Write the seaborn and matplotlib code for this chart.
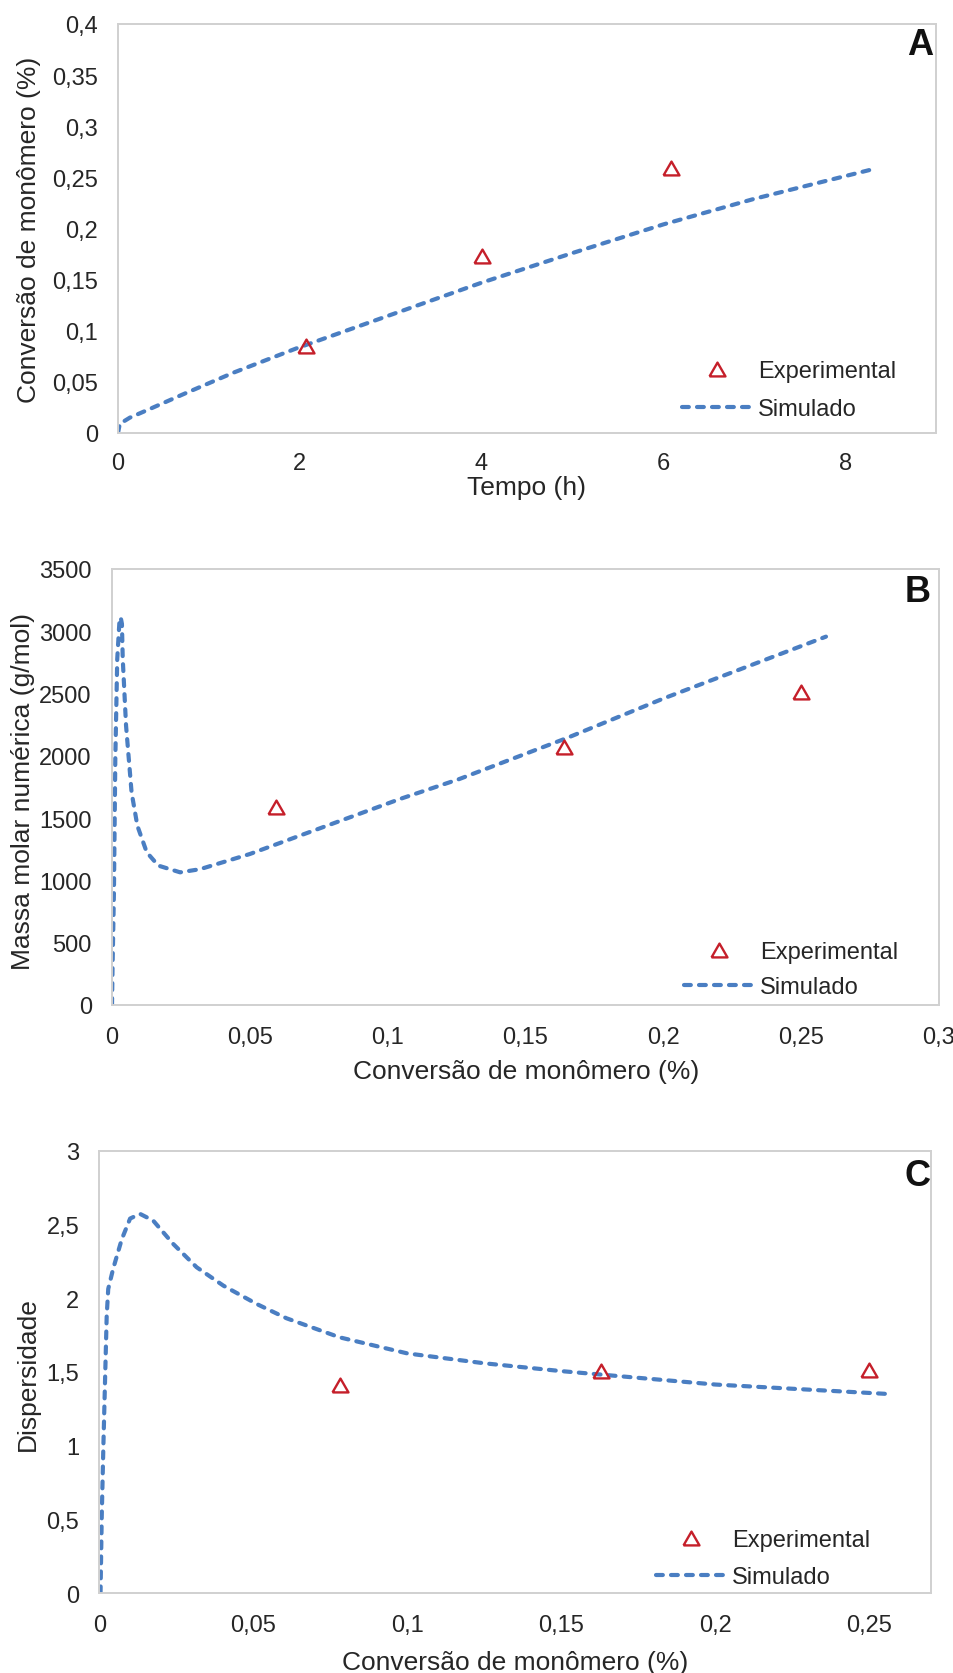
import numpy as np
import matplotlib
matplotlib.use("Agg")
import matplotlib.pyplot as plt
from matplotlib.markers import MarkerStyle
import seaborn as sns

# ---- Panel A: monomer conversion vs time ----
tempo_exp = [2.07, 4.0, 6.08]
conv_exp = [0.085, 0.173, 0.259]
tempo_sim = [0.0, 0.02, 0.13, 0.35, 0.72, 1.27, 1.97, 3.0, 4.0, 5.0, 6.0, 7.0, 8.35]
conv_sim = [0.0, 0.009, 0.015, 0.0235, 0.038, 0.059, 0.083, 0.1155, 0.147, 0.176, 0.204, 0.229, 0.259]
a_xticks = [0, 2, 4, 6, 8]
a_xticklabels = ["0", "2", "4", "6", "8"]
a_yticks = [0, 0.05, 0.1, 0.15, 0.2, 0.25, 0.3, 0.35, 0.4]
a_yticklabels = ["0", "0,05", "0,1", "0,15", "0,2", "0,25", "0,3", "0,35", "0,4"]

# ---- Panel B: number-average molar mass vs conversion ----
b_conv_exp = [0.0595, 0.164, 0.25]
b_mn_exp = [1590, 2075, 2510]
b_conv_sim = [0.0, 0.0002, 0.0007, 0.0012, 0.0019, 0.0027, 0.00315, 0.0036, 0.0039,
              0.0051, 0.0071, 0.0092, 0.0126, 0.0168, 0.0247, 0.0319, 0.050, 0.0682,
              0.1045, 0.126, 0.165, 0.200, 0.259]
b_mn_sim = [0, 300, 905, 1975, 2777, 3080, 3112, 3060, 2777,
            2242, 1707, 1439, 1226, 1119, 1065, 1090, 1212, 1360,
            1654, 1814, 2143, 2460, 2957]
b_xticks = [0, 0.05, 0.1, 0.15, 0.2, 0.25, 0.3]
b_xticklabels = ["0", "0,05", "0,1", "0,15", "0,2", "0,25", "0,3"]
b_yticks = [0, 500, 1000, 1500, 2000, 2500, 3000, 3500]
b_yticklabels = ["0", "500", "1000", "1500", "2000", "2500", "3000", "3500"]

# ---- Panel C: dispersity vs conversion ----
c_conv_exp = [0.078, 0.163, 0.25]
c_disp_exp = [1.415, 1.505, 1.515]
c_conv_sim = [0.0004, 0.0008, 0.0013, 0.00185, 0.0024, 0.0029, 0.0045, 0.0073, 0.010,
              0.0132, 0.0175, 0.024, 0.0316, 0.0403, 0.0511, 0.0608, 0.078, 0.1,
              0.125, 0.15, 0.2, 0.257]
c_disp_sim = [0.0, 0.526, 0.978, 1.43, 1.88, 2.063, 2.20, 2.40, 2.54,
              2.572, 2.526, 2.368, 2.21, 2.085, 1.961, 1.864, 1.735, 1.626,
              1.559, 1.506, 1.415, 1.35]
c_xticks = [0, 0.05, 0.1, 0.15, 0.2, 0.25]
c_xticklabels = ["0", "0,05", "0,1", "0,15", "0,2", "0,25"]
c_yticks = [0, 0.5, 1, 1.5, 2, 2.5, 3]
c_yticklabels = ["0", "0,5", "1", "1,5", "2", "2,5", "3"]

legend_labels = ["Experimental", "Simulado"]

# ---- styling ----
sns.set_style("white")
plt.rcParams["font.family"] = ["Liberation Sans", "DejaVu Sans"]

BLUE = "#4A7EC2"
RED = "#C51F2A"
SPINE = "#D0D0D0"
TEXT = "#262626"

W, H = 954, 1674
fig = plt.figure(figsize=(W / 100, H / 100), dpi=100)


def box(l, t, r, b):
    return [l / W, 1 - b / H, (r - l) / W, (b - t) / H]


tri = MarkerStyle([(-1, -0.866), (1, -0.866), (0, 0.866), (-1, -0.866)])
LW = 3.0
DASH = (0, (1.64, 1.96))


def panel(rect, xs, ys, xe, ye, xlim, ylim, xt, xtl, yt, ytl,
          xlabel, ylabel, letter, xlab_pos, ylab_pos, letter_pos,
          leg_anchor, leg_spacing, xpad):
    ax = fig.add_axes(box(*rect))
    sns.lineplot(x=xs, y=ys, ax=ax, sort=False, estimator=None, errorbar=None,
                 color=BLUE, linewidth=LW, linestyle=DASH,
                 dash_capstyle="round", solid_capstyle="round")
    sim_line = ax.lines[-1]
    sns.lineplot(x=xe, y=ye, ax=ax, estimator=None, errorbar=None,
                 color=RED, linestyle="none", marker=tri, markersize=11.5,
                 markerfacecolor="none", markeredgecolor=RED,
                 markeredgewidth=1.7)
    exp_line = ax.lines[-1]

    ax.set_xlim(*xlim)
    ax.set_ylim(*ylim)
    ax.set_xticks(xt)
    ax.set_xticklabels(xtl)
    ax.set_yticks(yt)
    ax.set_yticklabels(ytl)
    ax.tick_params(axis="both", length=0, labelsize=17, labelcolor=TEXT)
    ax.tick_params(axis="y", pad=14.5)
    ax.tick_params(axis="x", pad=xpad)
    for sp in ax.spines.values():
        sp.set_visible(True)
        sp.set_color(SPINE)
        sp.set_linewidth(1.4)

    ax.set_xlabel(xlabel, fontsize=19, color=TEXT, va="center")
    ax.set_ylabel(ylabel, fontsize=19, color=TEXT, va="center")
    ax.xaxis.set_label_coords(*xlab_pos)
    ax.yaxis.set_label_coords(*ylab_pos)

    ax.text(letter_pos[0], letter_pos[1], letter, transform=ax.transAxes,
            ha="right", va="baseline", fontsize=26, fontweight="bold",
            color="#111111")

    ax.legend([exp_line, sim_line], legend_labels, loc="center left",
              bbox_to_anchor=(leg_anchor[0] / W, 1 - leg_anchor[1] / H),
              bbox_transform=fig.transFigure, frameon=False, fontsize=17,
              borderpad=0, borderaxespad=0, handlelength=2.96,
              handletextpad=0.25, labelspacing=leg_spacing,
              labelcolor=TEXT)
    return ax


panel((118, 25, 936, 434), tempo_sim, conv_sim, tempo_exp, conv_exp,
      (0, 9), (0, 0.4), a_xticks, a_xticklabels, a_yticks, a_yticklabels,
      "Tempo (h)", "Conversão de monômero (%)", "A",
      (0.5, -0.133), (-0.109, 0.5), (0.9963, 0.9267),
      (682, 391), 0.68, 13.5)

panel((112, 570, 939, 1006), b_conv_sim, b_mn_sim, b_conv_exp, b_mn_exp,
      (0, 0.3), (0, 3500), b_xticks, b_xticklabels, b_yticks, b_yticklabels,
      "Conversão de monômero (%)", "Massa molar numérica (g/mol)", "B",
      (0.5006, -0.151), (-0.108, 0.493), (0.9903, 0.9266),
      (684, 970.4), 0.55, 15.4)

panel((99.3, 1151.7, 931, 1594.3), c_conv_sim, c_disp_sim, c_conv_exp, c_disp_exp,
      (0, 0.27), (0, 3), c_xticks, c_xticklabels, c_yticks, c_yticklabels,
      "Conversão de monômero (%)", "Dispersidade", "C",
      (0.5, -0.155), (-0.0863, 0.498), (0.9995, 0.9225),
      (656, 1559.8), 0.62, 14.7)

fig.savefig("out.png", dpi=100)
